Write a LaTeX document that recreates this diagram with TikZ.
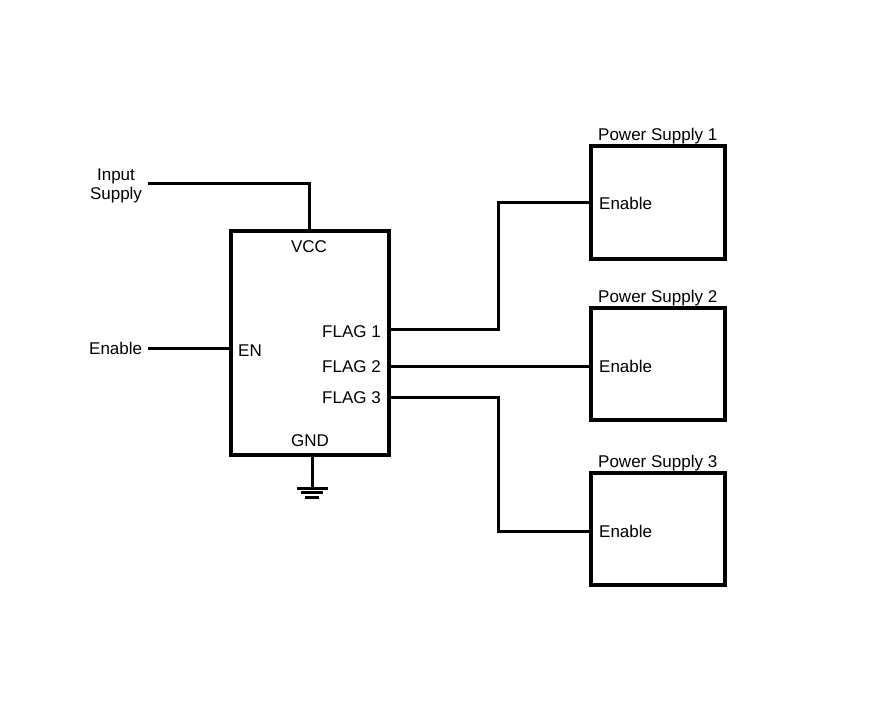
\documentclass[tikz,border=0pt]{standalone}
\usepackage{fontspec}
\setmainfont{Liberation Sans}
\begin{document}
\begin{tikzpicture}[x=1pt,y=-1pt,
  lbl/.style={inner sep=0pt,text height=12.2pt,text depth=0pt,font=\fontsize{17}{20}\selectfont},
  box/.style={draw,line width=4.5pt,inner sep=0pt},
  wire/.style={line width=3pt},
  gnd/.style={line width=3pt}]
\useasboundingbox (0,0) rectangle (879,714);
% main IC
\node[box,minimum width=158pt,minimum height=224pt] (ic) at (310,343) {};
% power supplies
\node[box,minimum width=134pt,minimum height=113pt] (ps1) at (658,202.5) {};
\node[box,minimum width=134pt,minimum height=112pt] (ps2) at (658,364) {};
\node[box,minimum width=134pt,minimum height=112pt] (ps3) at (658,529) {};
% labels
\node[lbl] (inlbl) at (116,174) {Input};
\node[lbl] (suplbl) at (116,193) {Supply};
\node[lbl,anchor=west] (enlbl) at (89,348) {Enable};
\node[lbl] (vcc) at (309,246) {VCC};
\node[lbl,anchor=west] (en) at (238,350) {EN};
\node[lbl,anchor=east] (f1) at (381,331) {FLAG 1};
\node[lbl,anchor=east] (f2) at (381,366) {FLAG 2};
\node[lbl,anchor=east] (f3) at (381,397) {FLAG 3};
\node[lbl] (gndl) at (310,440) {GND};
\node[lbl,anchor=west] (t1) at (598,134) {Power Supply 1};
\node[lbl,anchor=west] (t2) at (598,296) {Power Supply 2};
\node[lbl,anchor=west] (t3) at (598,461) {Power Supply 3};
\node[lbl,anchor=west] (e1) at (599,203) {Enable};
\node[lbl,anchor=west] (e2) at (599,366) {Enable};
\node[lbl,anchor=west] (e3) at (599,531) {Enable};
% connection points
\coordinate (inS) at (148,184);
\coordinate (enS) at (148,349);
\coordinate (icTop) at (309,231);
\coordinate (icEn) at (231,349);
\coordinate (icF1) at (389,330);
\coordinate (icF2) at (389,366);
\coordinate (icF3) at (389,397);
\coordinate (icGnd) at (312,455);
\coordinate (p1) at (591,203);
\coordinate (p2) at (591,366);
\coordinate (p3) at (591,531);
\coordinate (g) at (312,488);
% wires
\draw[wire] (inS) -| (icTop);
\draw[wire] (enS) -- (icEn);
\draw[wire] (icF1) -- (498,330) |- (p1);
\draw[wire] (icF2) -- (p2);
\draw[wire] (icF3) -- (498,397) |- (p3);
\draw[wire] (icGnd) -- (g);
\draw[gnd] (297,488) -- (328,488);
\draw[gnd] (301,492.5) -- (323,492.5);
\draw[gnd] (305,497) -- (319,497);
\end{tikzpicture}
\end{document}
